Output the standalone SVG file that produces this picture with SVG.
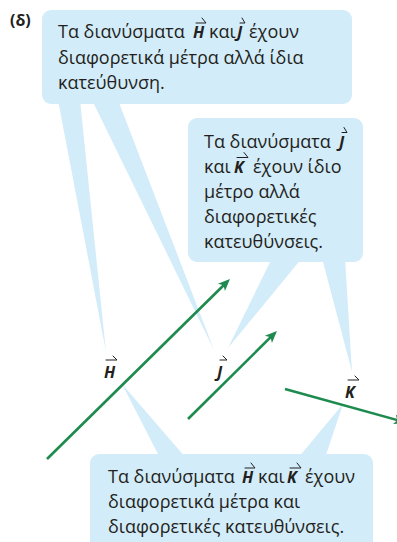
<svg xmlns="http://www.w3.org/2000/svg" width="397" height="542" viewBox="0 0 397 542">
<style>
.box{fill:#d3ecf9}
.t{font-family:"Open Sans","Noto Sans","DejaVu Sans",sans-serif;font-size:18px;fill:#231f20}
.v{font-family:"Open Sans","Noto Sans","DejaVu Sans",sans-serif;font-size:16px;font-weight:bold;font-style:italic;fill:#231f20}
.oa{fill:none;stroke:#231f20;stroke-width:1;stroke-linecap:round;stroke-linejoin:round}
.vec{stroke:#1d8a4e;stroke-width:2.6;fill:none}
.lbl{font-family:"Open Sans","Noto Sans","DejaVu Sans",sans-serif;font-size:16px;font-weight:bold;font-style:italic;fill:#231f20}
</style>
<defs>
<marker id="ah" markerUnits="userSpaceOnUse" markerWidth="14" markerHeight="12" refX="6" refY="5" orient="auto" overflow="visible">
<path d="M0,0 L12,5 L0,10 L3,5 Z" fill="#1d8a4e"/>
</marker>
</defs>
<text x="10" y="26" font-family="Open Sans, Noto Sans, sans-serif" font-size="16" font-weight="bold" fill="#231f20">(δ)</text>
<g id="tails">
<polygon class="box" points="58,100 80,100 106,352"/>
<polygon class="box" points="92,100 118,100 214,350"/>
<polygon class="box" points="272,258 302,258 228,348"/>
<polygon class="box" points="322,258 345,258 352,372"/>
<polygon class="box" points="122,384 160,458 186,458"/>
<polygon class="box" points="343,404 298,458 325,458"/>
</g>
<g id="connectors">
<line class="vec" x1="47" y1="459" x2="225.7" y2="283.2" marker-end="url(#ah)"/>
<line class="vec" x1="188" y1="419" x2="272.7" y2="335.2" marker-end="url(#ah)"/>
<line class="vec" x1="285" y1="389" x2="400.2" y2="420.9" marker-end="url(#ah)"/>
</g>
<g id="label-H">
<text class="lbl" x="104" y="378">H</text>
<path class="oa" d="M106,360 H117 L113,356"/>
</g>
<g id="label-J">
<text class="lbl" x="217" y="378">J</text>
<path class="oa" d="M220,360 H227 L223,356"/>
</g>
<g id="label-K">
<text class="lbl" x="345" y="398">K</text>
<path class="oa" d="M348,380 H359 L355,376"/>
</g>
<g id="box1">
<rect class="box" x="42" y="10" width="310" height="94" rx="9"/>
<text class="t" x="58" y="38">Τα διανύσματα</text>
<text class="v" x="193" y="38">H</text>
<path class="oa" d="M196,23 H206 L202,18"/>
<text class="t" x="209" y="38">και</text>
<text class="v" x="237" y="38">J</text>
<path class="oa" d="M240,23 H245 L242,18"/>
<text class="t" x="249" y="38">έχουν</text>
<text class="t" x="58" y="63.5">διαφορετικά μέτρα αλλά ίδια</text>
<text class="t" x="58" y="89">κατεύθυνση.</text>
</g>
<g id="box2">
<rect class="box" x="188" y="118" width="175" height="144" rx="9"/>
<text class="t" x="204" y="147.5">Τα διανύσματα</text>
<text class="v" x="339" y="147.5">J</text>
<path class="oa" d="M342,132.5 H347 L344,127.5"/>
<text class="t" x="204" y="172.5">και</text>
<text class="v" x="234" y="172.5">K</text>
<path class="oa" d="M237,157.5 H248 L244,152.5"/>
<text class="t" x="253" y="172.5">έχουν ίδιο</text>
<text class="t" x="204" y="197.5">μέτρο αλλά</text>
<text class="t" x="204" y="222.5">διαφορετικές</text>
<text class="t" x="204" y="247.5">κατευθύνσεις.</text>
</g>
<g id="box3">
<rect class="box" x="90" y="454" width="283" height="110" rx="9"/>
<text class="t" x="108" y="483">Τα διανύσματα</text>
<text class="v" x="242" y="483">H</text>
<path class="oa" d="M245,468 H255 L251,463"/>
<text class="t" x="258" y="483">και</text>
<text class="v" x="287" y="483">K</text>
<path class="oa" d="M290,468 H301 L297,463"/>
<text class="t" x="305" y="483">έχουν</text>
<text class="t" x="108" y="508">διαφορετικά μέτρα και</text>
<text class="t" x="108" y="533">διαφορετικές κατευθύνσεις.</text>
</g>
</svg>
